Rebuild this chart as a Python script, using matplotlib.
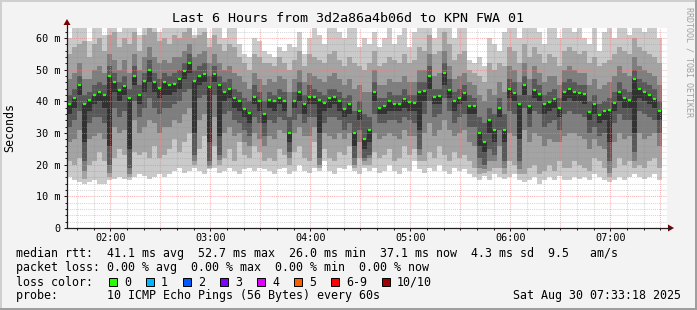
import numpy as np
import matplotlib.pyplot as plt
from matplotlib.lines import Line2D
from matplotlib.patches import Rectangle, Polygon

plt.rcParams['font.family'] = 'DejaVu Sans Mono'

W, H = 697, 310

# 10 pings every 60s, sorted per sample (3 minute steps from 01:34), in ms
ping1 = [16, 15, 14.5, 14, 14.5, 15, 14, 14, 15, 15.5, 16, 15.5, 15, 16, 17, 16.5, 15.5, 16, 17, 16,
         17, 18, 19, 17.5, 18, 19, 18, 17, 18.5, 19, 17.5, 18, 19, 18, 17, 18.5, 19, 18, 19, 18.5,
         18, 17, 18.5, 19, 17, 18, 20, 18, 17.5, 19, 18, 21, 18, 17, 19, 18.5, 20, 18, 17, 19,
         18, 19, 17.5, 18, 20, 18, 17, 19, 18, 21, 18.5, 17.5, 19, 18, 20, 18, 17, 19, 18, 18.5,
         17, 16, 15, 16.5, 15, 17, 16, 15.5, 16, 17, 15, 14.5, 15, 16, 14, 15, 16, 15, 16.5, 15,
         15, 16, 15.5, 16, 15, 17, 16, 15, 14.5, 15, 16, 15, 16, 17, 16, 15.5, 16, 17, 15]
ping2 = [21, 20, 22, 15.5, 20, 21, 24, 21, 16, 22, 25, 23, 16, 24, 23, 24, 22, 26, 22, 23,
         25, 28, 24, 27, 30, 20, 25, 29, 19, 26, 20, 22, 25, 21, 27, 23, 22, 26, 24, 21,
         22, 21, 25, 23, 20, 24, 26, 22, 21, 27, 19, 25, 22, 21, 24, 23, 26, 19, 22, 20,
         20, 24, 22, 23, 25, 21, 22, 26, 23, 25, 21, 21, 24, 22, 26, 23, 21, 24, 22, 23,
         21, 19, 17, 17.5, 18, 19, 19, 17, 21, 20, 17, 17, 19, 20, 17, 18, 20, 18, 21, 19,
         19, 21, 20, 19, 18, 22, 21, 19, 16, 19, 22, 20, 21, 19, 20, 19, 21, 22, 19]
ping3 = [27, 28, 31, 18, 28, 29, 30, 28, 17.5, 32, 30, 31, 17, 34, 30, 32, 34, 33, 30, 32,
         32, 34, 33, 36, 38, 21, 34, 36, 19.5, 35, 21.5, 30, 32, 29, 30, 27, 26, 30, 28, 26,
         29, 28, 31, 30, 22, 30, 32, 29, 29, 32, 20, 30, 29, 28, 30, 28, 30, 20, 27, 21,
         22, 30, 28, 29, 30, 29, 28, 31, 29, 29, 23, 30, 33, 29, 31, 34, 31, 29, 30, 31,
         27, 26, 19, 18.5, 21, 21, 26, 19, 30, 29, 18.5, 31, 27, 30, 29, 26, 28, 27, 27, 29,
         30, 30, 29, 28, 25, 28, 26, 25, 17.5, 27, 30, 28, 29, 21, 30, 28, 29, 30, 26]
ping4 = [32, 34, 37, 21, 33, 35, 35, 33, 20, 38, 35, 37, 19, 40, 35, 38, 41, 38, 36, 38,
         38, 39, 40, 43, 44, 23, 41, 42, 21, 42, 23, 36, 37, 34, 33, 31, 29, 35, 33, 29,
         34, 33, 35, 34, 24, 34, 36, 33, 35, 35, 22, 33, 35, 35, 34, 31, 33, 22, 31, 22,
         23, 36, 33, 33, 34, 34, 33, 35, 34, 33, 25, 36, 40, 35, 36, 41, 37, 33, 35, 36,
         32, 32, 22, 20, 25, 23, 31, 21, 37, 36, 21, 38, 32, 37, 36, 32, 33, 34, 31, 36,
         37, 36, 36, 35, 30, 32, 29, 30, 21, 33, 36, 34, 34, 24, 37, 36, 35, 34, 30]
ping5 = [36, 38, 42, 27, 37, 39, 40, 38, 26, 43, 40, 42, 25, 45, 39, 43, 46, 43, 41, 42,
         42, 43, 44, 47, 49, 30, 45, 46, 27, 46, 29, 40, 41, 38, 37, 35, 33, 39, 37, 33,
         38, 37, 39, 37, 27, 38, 40, 36, 39, 39, 30, 37, 38, 39, 37, 35, 36, 26, 34, 25,
         27, 40, 36, 36, 37, 37, 37, 38, 37, 37, 31, 40, 44, 39, 39, 45, 41, 37, 39, 40,
         36, 36, 26, 24, 30, 27, 35, 27, 41, 40, 28, 42, 36, 41, 40, 36, 37, 38, 35, 40,
         41, 40, 40, 39, 34, 36, 33, 34, 27, 37, 40, 38, 38, 30, 41, 40, 39, 38, 34]
median = [39, 41, 45, 39, 40.5, 42, 43, 42, 48, 46, 43.5, 44.8, 41, 48, 42, 46.5, 50, 46, 44.3, 46,
          45, 45.5, 47, 49.5, 52, 46.5, 48, 48.5, 44.5, 48.5, 45, 43, 43.8, 41, 40, 37.5, 36.2, 41.5, 40, 36,
          40.5, 40, 41, 40, 30, 40, 43, 39, 41.5, 41.5, 40.5, 39.5, 41, 41.4, 40, 37.5, 39, 30, 37, 28,
          31, 43, 38, 38.5, 40, 39, 39.3, 40.8, 39.7, 39.5, 43, 43.3, 48, 41.3, 41.6, 49, 43.7, 40, 41.2, 42.5,
          38.5, 38.5, 30, 27, 34, 31, 38, 31, 44, 42.5, 39, 45, 38.5, 43.5, 42.3, 39, 39.7, 40.6, 38, 43,
          44, 42.8, 42.6, 42.3, 36.7, 39, 35.6, 37, 37.3, 39.5, 42.8, 41.2, 40.4, 47, 43.9, 42.8, 42.1, 40.7, 37.1]
ping7 = [42, 44, 48, 42, 43, 45, 46, 45, 51, 49, 46, 48, 44, 51, 45, 49, 53, 49, 47, 49,
         48, 49, 50, 52, 55, 50, 51, 52, 48, 51, 48, 46, 47, 44, 43, 41, 40, 45, 43, 40,
         43, 42, 44, 43, 35, 43, 46, 42, 45, 44, 43, 42, 44, 44, 43, 41, 42, 37, 40, 36,
         35, 46, 41, 41, 43, 42, 42, 44, 42, 42, 46, 46, 51, 44, 44, 52, 47, 43, 44, 45,
         42, 41, 35, 33, 38, 36, 41, 36, 47, 46, 42, 48, 42, 47, 45, 42, 43, 44, 41, 46,
         47, 46, 45, 45, 40, 42, 39, 40, 41, 43, 46, 44, 43, 50, 47, 46, 45, 44, 40]
ping8 = [47, 49, 52, 47, 47, 50, 51, 49, 55, 53, 50, 53, 49, 55, 50, 54, 57, 54, 52, 53,
         52, 54, 54, 56, 58, 54, 55, 56, 52, 55, 52, 50, 51, 49, 48, 46, 44, 49, 47, 45,
         47, 46, 48, 47, 43, 47, 50, 46, 49, 48, 47, 46, 48, 49, 47, 45, 47, 44, 45, 43,
         43, 50, 45, 45, 47, 46, 46, 48, 46, 46, 50, 50, 55, 48, 49, 56, 51, 47, 48, 49,
         46, 45, 42, 40, 44, 42, 46, 43, 51, 50, 46, 52, 47, 51, 49, 46, 48, 48, 45, 50,
         51, 50, 49, 49, 45, 47, 44, 45, 46, 48, 51, 49, 48, 54, 51, 50, 49, 48, 45]
ping9 = [55, 57, 58, 59, 54, 58, 60, 56, 61, 62, 57, 60, 58, 62, 56, 61, 63, 62, 59, 60,
         58, 61, 60, 62, 63, 60, 61, 62, 57, 61, 58, 56, 58, 57, 54, 52, 50, 55, 54, 52,
         52, 51, 54, 52, 50, 53, 56, 51, 55, 54, 53, 52, 55, 56, 53, 51, 54, 52, 51, 50,
         52, 56, 51, 52, 54, 53, 52, 55, 52, 53, 57, 56, 61, 55, 56, 62, 58, 53, 55, 56,
         50, 49, 48, 46, 52, 50, 52, 51, 57, 56, 52, 58, 54, 57, 55, 52, 55, 54, 51, 56,
         57, 56, 55, 56, 52, 54, 51, 52, 53, 55, 57, 56, 55, 60, 57, 56, 55, 54, 52]
ping10 = [60, 68, 70, 64, 59, 72, 70, 61, 75, 70, 62, 68, 73, 70, 61, 66, 72, 70, 62, 68,
          66, 71, 64, 70, 72, 61, 69, 66, 60, 68, 63, 60, 66, 64, 58, 55, 54, 60, 59, 56,
          55, 54, 57, 56, 58, 57, 62, 55, 60, 63, 61, 58, 70, 68, 62, 60, 66, 64, 57, 60,
          58, 62, 57, 60, 66, 58, 61, 70, 57, 62, 72, 65, 74, 60, 66, 76, 70, 60, 64, 68,
          53, 52, 54, 51, 60, 58, 56, 62, 66, 72, 60, 70, 65, 68, 62, 58, 66, 64, 60, 70,
          65, 62, 68, 60, 58, 66, 56, 62, 70, 60, 68, 64, 61, 72, 66, 62, 70, 65, 60]

hour_ticks = [2, 3, 4, 5, 6, 7]
hour_labels = ['02:00', '03:00', '04:00', '05:00', '06:00', '07:00']
ms_ticks = [0, 10, 20, 30, 40, 50, 60]
ms_labels = ['0', '10 m', '20 m', '30 m', '40 m', '50 m', '60 m']

loss_names = ['0', '1', '2', '3', '4', '5', '6-9', '10/10']
loss_colors = ['#26ff00', '#00b8ff', '#0059ff', '#7e00ff', '#dd00ff', '#ff5e00', '#ff0000', '#a10000']

title = 'Last 6 Hours from 3d2a86a4b06d to KPN FWA 01'
line1 = 'median rtt:  41.1 ms avg  52.7 ms max  26.0 ms min  37.1 ms now  4.3 ms sd  9.5   am/s'
line2 = 'packet loss: 0.00 % avg  0.00 % max  0.00 % min  0.00 % now'
line4 = 'probe:       10 ICMP Echo Pings (56 Bytes) every 60s'
stamp = 'Sat Aug 30 07:33:18 2025'


def fx(x):
    return x / W


def fy(y):
    return 1 - y / H


fig = plt.figure(figsize=(W / 100, H / 100), dpi=100, facecolor='#f3f3f3')

# 3d frame
fig.add_artist(Rectangle((0, fy(2)), 1, 2 / H, color='#cfcfcf', lw=0))
fig.add_artist(Rectangle((0, 0), fx(2), 1, color='#cfcfcf', lw=0))
fig.add_artist(Rectangle((0, 0), 1, 2 / H, color='#9e9e9e', lw=0))
fig.add_artist(Rectangle((fx(W - 2), 0), fx(2), 1, color='#9e9e9e', lw=0))

t0 = 1 + 34 / 60
edges = t0 + np.arange(len(median) + 1) * 3 / 60
centers = (edges[:-1] + edges[1:]) / 2

ax = fig.add_axes([fx(67), fy(228), 600 / W, 200 / H])
ax.set_facecolor('white')
ax.set_xlim(t0, t0 + 6)
ax.set_ylim(0, 200 / 3.1667)

# smoke: pair outer pings with lighter grey, inner with darker
pings = [ping1, ping2, ping3, ping4, ping5, median, ping7, ping8, ping9, ping10]
half = 5
for i in range(half):
    shade = int(190 / half * (half - (i + 1))) + 50
    col = '#%02x%02x%02x' % (shade, shade, shade)
    ax.stairs(pings[9 - i], edges, baseline=pings[i], fill=True, color=col, lw=0, zorder=1)

# median marks, short bars like rrdtool's stacked median
ax.hlines(median, centers - 0.016, centers + 0.016, colors=loss_colors[0], lw=1.6,
          capstyle='butt', zorder=4)

# grid on top
for k in range(10, 48):
    t = k / 6
    if t0 < t < t0 + 6:
        if k % 3 == 0:
            ax.axvline(t, color=(0.96, 0.5, 0.5, 0.6), lw=0.75, ls=(0, (1, 1)), zorder=3)
        else:
            ax.axvline(t, color=(0.55, 0.55, 0.55, 0.35), lw=0.75, ls=(0, (1, 1)), zorder=3)
for v in range(2, 64, 2):
    if v % 10 == 0:
        ax.axhline(v, color=(0.96, 0.5, 0.5, 0.6), lw=0.75, ls=(0, (1, 1)), zorder=3)
    else:
        ax.axhline(v, color=(0.55, 0.55, 0.55, 0.35), lw=0.75, ls=(0, (1, 1)), zorder=3)

for s in ax.spines.values():
    s.set_visible(False)
ax.set_xticks(hour_ticks, labels=hour_labels)
ax.set_xticks([k / 6 for k in range(10, 46)], minor=True)
ax.set_yticks(ms_ticks, labels=ms_labels)
ax.set_yticks(range(0, 64, 2), minor=True)
ax.tick_params(which='major', length=2.2, width=0.75, color='#1f1f1f', labelsize=7.3, pad=1.5)
ax.tick_params(which='minor', length=1.4, width=0.75, color='#1f1f1f')
ax.tick_params(axis='y', which='major', pad=2.2)

# axis lines with arrows
fig.add_artist(Line2D([fx(67), fx(670)], [fy(228), fy(228)], color='#1f1f1f', lw=0.9))
fig.add_artist(Line2D([fx(67), fx(67)], [fy(228), fy(24)], color='#1f1f1f', lw=0.9))
fig.add_artist(Polygon([(fx(668), fy(224.5)), (fx(674), fy(228)), (fx(668), fy(231.5))],
                       closed=True, color='#800000', lw=0))
fig.add_artist(Polygon([(fx(63.5), fy(25)), (fx(67), fy(19)), (fx(70.5), fy(25))],
                       closed=True, color='#800000', lw=0))

# texts
fig.text(fx(348), fy(19), title, ha='center', va='center', size=9.6)
fig.text(fx(10), fy(128), 'Seconds', rotation=90, ha='center', va='center', size=8.4)
fig.text(fx(689), fy(62), 'RRDTOOL / TOBI OETIKER', rotation=270, ha='center', va='center',
         size=6, color='#a0a0a0')

fig.text(fx(16), fy(254), line1, ha='left', va='center', size=8.4)
fig.text(fx(16), fy(268), line2, ha='left', va='center', size=8.4)
fig.text(fx(16), fy(282), 'loss color:', ha='left', va='center', size=8.4)
bx = 109
for name, col in zip(loss_names, loss_colors):
    fig.add_artist(Rectangle((fx(bx), fy(286)), 8 / W, 8 / H, facecolor=col,
                             edgecolor='black', lw=0.7))
    fig.text(fx(bx + 15), fy(282), name, ha='left', va='center', size=8.4)
    bx = bx + 15 + 7 * len(name) + 15
fig.text(fx(16), fy(296), line4, ha='left', va='center', size=8.4)
fig.text(fx(681), fy(296), stamp, ha='right', va='center', size=8.4)

fig.savefig('out.png', dpi=100, facecolor=fig.get_facecolor())
